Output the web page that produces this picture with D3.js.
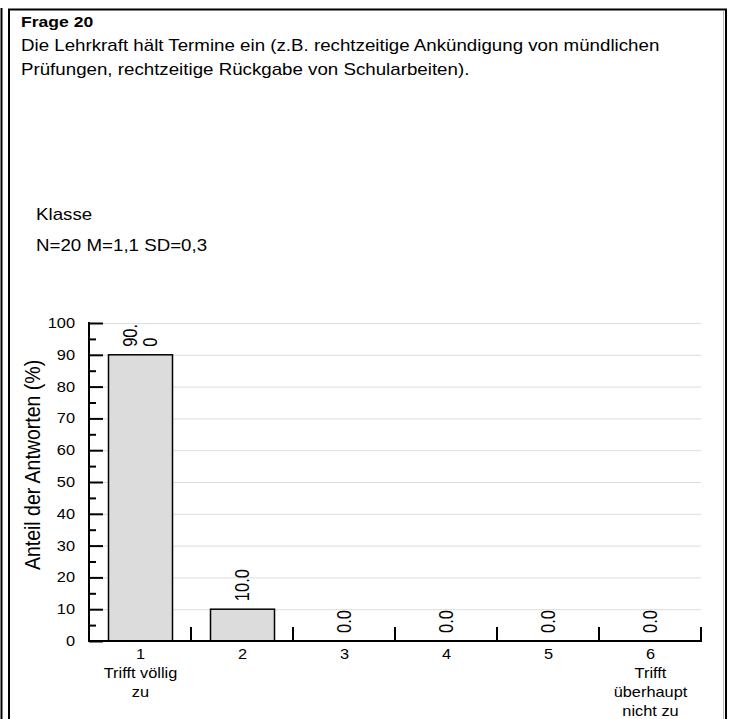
<!DOCTYPE html>
<html><head><meta charset="utf-8">
<script src="https://cdn.jsdelivr.net/npm/d3@7/dist/d3.min.js"></script>
<style>body{margin:0;background:#fff}svg{display:block;font-family:"Liberation Sans",Arial,sans-serif}</style>
</head><body><svg id="c" width="736" height="719"></svg>
<script>
const categories = ["1","2","3","4","5","6"];
const categoryLabels = [["1","Trifft völlig","zu"],["2"],["3"],["4"],["5"],["6","Trifft","überhaupt","nicht zu"]];
const values = [90.0, 10.0, 0.0, 0.0, 0.0, 0.0];
const valueLabels = [["90.","0"],["10.0"],["0.0"],["0.0"],["0.0"],["0.0"]];
const yTicks = [0,10,20,30,40,50,60,70,80,90,100];
const titleLines = ["Frage 20","Die Lehrkraft hält Termine ein (z.B. rechtzeitige Ankündigung von mündlichen","Prüfungen, rechtzeitige Rückgabe von Schularbeiten)."];
const groupLabel = "Klasse";
const statsLabel = "N=20 M=1,1 SD=0,3";
const yTitle = "Anteil der Antworten (%)";

const SX = 1.17; // horizontal stretch of the original rendering
const svg = d3.select("#c");

function txt(x, y, s, size, opts = {}) {
  const g = svg.append("g").attr("transform", `translate(${x},${y}) scale(${SX},1)` + (opts.rot ? ` rotate(${opts.rot})` : ""));
  const t = g.append("text").attr("font-size", size).text(s);
  if (opts.anchor) t.attr("text-anchor", opts.anchor);
  if (opts.bold) t.attr("font-weight", "bold");
  if (opts.dy) t.attr("dy", opts.dy);
  return t;
}

// frame
svg.append("line").attr("x1",1.5).attr("x2",1.5).attr("y1",8).attr("y2",719).attr("stroke","#000").attr("stroke-width",2);
svg.append("path").attr("d","M9,719 V9.5 H726 V719").attr("fill","none").attr("stroke","#000").attr("stroke-width",2);
svg.append("line").attr("x1",723.5).attr("x2",723.5).attr("y1",11).attr("y2",719).attr("stroke","#bbb").attr("stroke-width",1);

txt(21, 27, titleLines[0], 15, {bold:true});
txt(21, 51, titleLines[1], 16);
txt(21, 75, titleLines[2], 16);
txt(36, 220, groupLabel, 16);
txt(36, 251, statsLabel, 16);

const x0 = 89, x1 = 701, yTop = 323, yBot = 641;
const x = d3.scaleBand().domain(categories).range([x0,x1]).paddingInner(0.3725).paddingOuter(0.18625);
const y = d3.scaleLinear().domain([0,100]).range([yBot,yTop]);

// gridlines
svg.append("g").selectAll("line").data(yTicks.filter(d=>d>0)).join("line")
  .attr("x1",103).attr("x2",x1).attr("y1",d=>y(d)+0.5).attr("y2",d=>y(d)+0.5)
  .attr("stroke","#dcdcdc").attr("stroke-width",1);

// bars
svg.append("g").selectAll("rect").data(values).join("rect")
  .attr("x",(d,i)=>x(categories[i])+0.5).attr("width",x.bandwidth())
  .attr("y",d=>y(d)).attr("height",d=>yBot-y(d))
  .attr("fill","#dcdcdc").attr("stroke","#000").attr("stroke-width",1.5);

// y axis ticks (major and minor, pointing inward)
const gy = svg.append("g").attr("transform",`translate(${x0},0)`).call(d3.axisRight(y).tickValues(yTicks).tickSize(14).tickFormat(""));
gy.select(".domain").remove();
gy.selectAll(".tick line").attr("stroke","#000").attr("stroke-width",2);
svg.append("g").attr("transform",`translate(${x0},0)`).call(d3.axisRight(y).tickValues(d3.range(5,100,10)).tickSize(7).tickFormat(""))
  .call(g=>{g.select(".domain").remove();g.selectAll(".tick line").attr("stroke","#000").attr("stroke-width",2);});
svg.append("line").attr("x1",x0).attr("x2",x0).attr("y1",yTop-1).attr("y2",yBot+1).attr("stroke","#000").attr("stroke-width",2);
yTicks.forEach(d => txt(75, y(d), d, 14, {anchor:"end", dy:"0.35em"}));

// x axis
svg.append("line").attr("x1",x0).attr("x2",x1+1).attr("y1",yBot).attr("y2",yBot).attr("stroke","#000").attr("stroke-width",2);
const step = x.step();
svg.append("g").selectAll("line").data(categories).join("line")
  .attr("x1",(d,i)=>x0+step*(i+1)).attr("x2",(d,i)=>x0+step*(i+1))
  .attr("y1",yBot).attr("y2",yBot-14).attr("stroke","#000").attr("stroke-width",2);

// category labels
categoryLabels.forEach((lines,i)=>{
  const cx = x(categories[i]) + x.bandwidth()/2 + 0.5;
  lines.forEach((l,j)=>txt(cx, 659 + j*19, l, 14, {anchor:"middle"}));
});

// value labels (rotated)
values.forEach((v,i)=>{
  const cx = x(categories[i]) + x.bandwidth()/2 + 0.5;
  const lines = valueLabels[i];
  const lh = 20.5;
  const base = y(v) - 8;
  lines.forEach((l,j)=>{
    const off = (j - (lines.length-1)/2) * lh;
    txt(cx + off + 6.5, base, l, 16.5, {rot:-90});
  });
});

txt(40, 465, yTitle, 19.5, {rot:-90, anchor:"middle"});
</script></body></html>
